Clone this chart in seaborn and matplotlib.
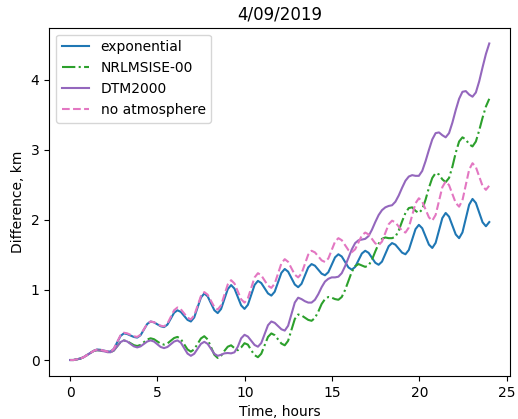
import numpy as np
import pandas as pd
import matplotlib
matplotlib.use('Agg')
import matplotlib.pyplot as plt
import seaborn as sns

# time grid, hours (126 samples over one day)
time_h = np.linspace(0, 24, 126)

exponential = [
    0.0, 0.0, 0.01, 0.02, 0.04, 0.07, 0.10, 0.13,
    0.15, 0.146, 0.135, 0.124, 0.12, 0.158, 0.25, 0.342,
    0.38, 0.371, 0.35, 0.329, 0.32, 0.354, 0.435, 0.516,
    0.55, 0.538, 0.51, 0.482, 0.47, 0.505, 0.59, 0.675,
    0.71, 0.687, 0.63, 0.573, 0.55, 0.608, 0.75, 0.892,
    0.95, 0.909, 0.81, 0.711, 0.67, 0.728, 0.87, 1.012,
    1.07, 1.02, 0.90, 0.78, 0.73, 0.788, 0.93, 1.072,
    1.13, 1.099, 1.025, 0.951, 0.92, 0.975, 1.11, 1.245,
    1.30, 1.262, 1.17, 1.078, 1.04, 1.088, 1.205, 1.322,
    1.37, 1.347, 1.29, 1.233, 1.21, 1.254, 1.36, 1.466,
    1.51, 1.478, 1.40, 1.322, 1.29, 1.329, 1.425, 1.521,
    1.56, 1.531, 1.46, 1.389, 1.36, 1.405, 1.515, 1.625,
    1.67, 1.647, 1.59, 1.533, 1.51, 1.571, 1.72, 1.869,
    1.93, 1.882, 1.765, 1.648, 1.60, 1.673, 1.85, 2.027,
    2.10, 2.047, 1.92, 1.793, 1.74, 1.822, 2.02, 2.218,
    2.30, 2.243, 2.105, 1.967, 1.91, 1.97,
]

nrlmsise = [
    0.0, 0.0, 0.01, 0.02, 0.04, 0.07, 0.10, 0.13,
    0.14, 0.136, 0.125, 0.114, 0.11, 0.135, 0.195, 0.255,
    0.28, 0.268, 0.24, 0.212, 0.20, 0.216, 0.255, 0.294,
    0.31, 0.297, 0.265, 0.233, 0.22, 0.236, 0.275, 0.314,
    0.33, 0.299, 0.225, 0.151, 0.12, 0.152, 0.23, 0.308,
    0.34, 0.295, 0.185, 0.075, 0.03, 0.06, 0.13, 0.19,
    0.21, 0.17, 0.14, 0.18, 0.24, 0.22, 0.14, 0.07,
    0.04, 0.09, 0.21, 0.33, 0.38, 0.355, 0.295, 0.235,
    0.21, 0.274, 0.43, 0.586, 0.65, 0.637, 0.605, 0.573,
    0.56, 0.60, 0.69, 0.80, 0.87, 0.90, 0.89, 0.87,
    0.86, 0.90, 1.00, 1.13, 1.26, 1.34, 1.37, 1.35,
    1.33, 1.35, 1.43, 1.55, 1.66, 1.73, 1.75, 1.74,
    1.74, 1.76, 1.85, 1.98, 2.10, 2.17, 2.18, 2.13,
    2.10, 2.15, 2.29, 2.46, 2.60, 2.67, 2.65, 2.58,
    2.54, 2.60, 2.76, 2.96, 3.12, 3.18, 3.15, 3.08,
    3.05, 3.12, 3.28, 3.46, 3.62, 3.73,
]

dtm2000 = [
    0.0, 0.0, 0.01, 0.02, 0.04, 0.07, 0.10, 0.13,
    0.14, 0.136, 0.125, 0.114, 0.11, 0.135, 0.195, 0.255,
    0.28, 0.265, 0.23, 0.195, 0.18, 0.195, 0.23, 0.265,
    0.28, 0.264, 0.225, 0.186, 0.17, 0.186, 0.225, 0.264,
    0.28, 0.248, 0.17, 0.092, 0.06, 0.089, 0.16, 0.231,
    0.26, 0.231, 0.16, 0.089, 0.06, 0.075, 0.095, 0.10,
    0.095, 0.11, 0.19, 0.31, 0.36, 0.335, 0.275, 0.215,
    0.19, 0.243, 0.37, 0.497, 0.55, 0.531, 0.485, 0.439,
    0.42, 0.489, 0.655, 0.821, 0.89, 0.87, 0.84, 0.82,
    0.82, 0.86, 0.94, 1.04, 1.12, 1.16, 1.18, 1.18,
    1.19, 1.24, 1.34, 1.46, 1.58, 1.67, 1.71, 1.72,
    1.73, 1.77, 1.86, 1.97, 2.07, 2.14, 2.18, 2.20,
    2.21, 2.26, 2.35, 2.46, 2.56, 2.62, 2.64, 2.63,
    2.63, 2.70, 2.84, 3.00, 3.15, 3.24, 3.25, 3.21,
    3.18, 3.24, 3.39, 3.57, 3.73, 3.83, 3.84, 3.79,
    3.76, 3.82, 3.98, 4.18, 4.37, 4.52,
]

no_atmosphere = [
    0.0, 0.0, 0.01, 0.02, 0.04, 0.07, 0.10, 0.13,
    0.15, 0.146, 0.135, 0.124, 0.12, 0.159, 0.255, 0.351,
    0.39, 0.381, 0.36, 0.339, 0.33, 0.362, 0.44, 0.518,
    0.55, 0.54, 0.515, 0.49, 0.48, 0.519, 0.615, 0.711,
    0.75, 0.725, 0.665, 0.605, 0.58, 0.637, 0.775, 0.913,
    0.97, 0.933, 0.845, 0.757, 0.72, 0.781, 0.93, 1.079,
    1.14, 1.093, 0.98, 0.867, 0.82, 0.881, 1.03, 1.179,
    1.24, 1.209, 1.135, 1.061, 1.03, 1.09, 1.235, 1.38,
    1.44, 1.402, 1.31, 1.218, 1.18, 1.235, 1.37, 1.505,
    1.56, 1.537, 1.48, 1.423, 1.40, 1.45, 1.57, 1.69,
    1.74, 1.711, 1.64, 1.569, 1.54, 1.581, 1.68, 1.779,
    1.82, 1.794, 1.73, 1.666, 1.64, 1.691, 1.815, 1.939,
    1.99, 1.965, 1.905, 1.845, 1.82, 1.892, 2.065, 2.238,
    2.31, 2.263, 2.15, 2.037, 1.99, 2.072, 2.27, 2.468,
    2.55, 2.497, 2.37, 2.243, 2.19, 2.281, 2.50, 2.719,
    2.81, 2.755, 2.62, 2.485, 2.43, 2.49,
]

series = {
    'exponential': (exponential, 'tab:blue', '-'),
    'NRLMSISE-00': (nrlmsise, 'tab:green', '-.'),
    'DTM2000': (dtm2000, 'tab:purple', '-'),
    'no atmosphere': (no_atmosphere, 'tab:pink', '--'),
}

fig, ax = plt.subplots(figsize=(5.18, 4.19), dpi=100)
for name, (vals, col, ls) in series.items():
    df = pd.DataFrame({'t': time_h, 'diff': vals})
    sns.lineplot(data=df, x='t', y='diff', color=col, linestyle=ls,
                 linewidth=1.5, label=name, ax=ax)

ax.set_title('4/09/2019')
ax.set_xlabel('Time, hours')
ax.set_ylabel('Difference, km')
ax.set_xticks([0, 5, 10, 15, 20, 25])
ax.set_yticks([0, 1, 2, 3, 4])
ax.legend(loc='upper left')
fig.subplots_adjust(left=0.095, right=0.985, bottom=0.103, top=0.934)
fig.savefig('out.png', dpi=100)
